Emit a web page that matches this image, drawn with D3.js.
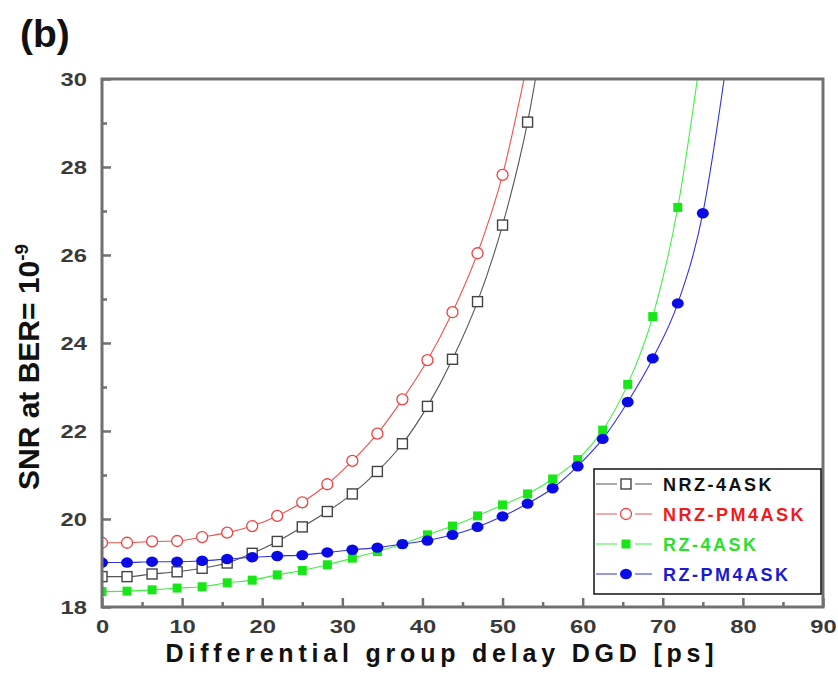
<!DOCTYPE html>
<html>
<head>
<meta charset="utf-8">
<script src="https://cdn.jsdelivr.net/npm/d3@7"></script>
<style>
    body { margin: 0; background: white; }
    #chart { width: 838px; height: 696px; }
    text { font-family: "Liberation Sans", Arial, sans-serif; font-weight: bold; }
</style>
</head>
<body>
<div id="chart"></div>
<script>
// DGD sampling step is 3.125 ps; the last point of each series sits above 30 dB and is clipped
const step = 3.125;
const nrz4ask = [18.69, 18.69, 18.75, 18.80, 18.88, 19.00, 19.22, 19.49, 19.82, 20.17, 20.57, 21.08, 21.71, 22.56, 23.63, 24.94, 26.68, 29.02, 32.4];
const nrzPm4ask = [19.46, 19.46, 19.49, 19.50, 19.59, 19.69, 19.84, 20.07, 20.38, 20.79, 21.32, 21.94, 22.72, 23.61, 24.70, 26.04, 27.82, 30.4];
const rz4ask = [18.35, 18.36, 18.39, 18.43, 18.46, 18.55, 18.61, 18.73, 18.83, 18.96, 19.11, 19.26, 19.43, 19.64, 19.84, 20.07, 20.32, 20.57, 20.91, 21.35, 22.02, 23.06, 24.60, 27.08, 30.9];
const rzPm4ask = [19.01, 19.01, 19.03, 19.03, 19.05, 19.09, 19.13, 19.16, 19.18, 19.24, 19.30, 19.35, 19.43, 19.51, 19.64, 19.82, 20.06, 20.35, 20.70, 21.20, 21.82, 22.66, 23.65, 24.90, 26.95, 30.6];

const seriesNames = ["NRZ-4ASK", "NRZ-PM4ASK", "RZ-4ASK", "RZ-PM4ASK"];
const xTicks = [0, 10, 20, 30, 40, 50, 60, 70, 80, 90];
const yTicks = [18, 20, 22, 24, 26, 28, 30];

const series = [
    { name: seriesNames[0], values: nrz4ask, line: "#555", stroke: "#444", fill: "white", shape: "square", text: "#111" },
    { name: seriesNames[1], values: nrzPm4ask, line: "#f05050", stroke: "#f04040", fill: "white", shape: "circle", text: "#ee1c1c" },
    { name: seriesNames[2], values: rz4ask, line: "#44ee44", stroke: "none", fill: "#19e619", shape: "square", text: "#2ee02e" },
    { name: seriesNames[3], values: rzPm4ask, line: "#3333dd", stroke: "none", fill: "#0a0ae6", shape: "circle", text: "#1a1ad0" }
];

const margin = { top: 79, right: 15, bottom: 89, left: 102 };
const width = 838 - margin.left - margin.right;
const height = 696 - margin.top - margin.bottom;

const root = d3.select("#chart").append("svg")
    .attr("width", 838)
    .attr("height", 696);

const svg = root.append("g")
    .attr("transform", `translate(${margin.left},${margin.top})`);

const xScale = d3.scaleLinear().domain([0, 90]).range([0, width]);
const yScale = d3.scaleLinear().domain([18, 30]).range([height, 0]);

svg.append("defs").append("clipPath").attr("id", "plotClip")
    .append("rect").attr("width", width).attr("height", height);

// Axes with inward ticks
const xAxis = svg.append("g").attr("transform", `translate(0,${height})`)
    .call(d3.axisBottom(xScale).tickValues(xTicks).tickSize(-9).tickPadding(13).tickFormat(d3.format("d")));
const xMinor = svg.append("g").attr("transform", `translate(0,${height})`)
    .call(d3.axisBottom(xScale).tickValues(xTicks.slice(0, -1).map(d => d + 5)).tickSize(-5).tickFormat(""));
const yAxis = svg.append("g")
    .call(d3.axisLeft(yScale).tickValues(yTicks).tickSize(-9).tickPadding(12).tickFormat(d3.format("d")));
const yMinor = svg.append("g")
    .call(d3.axisLeft(yScale).tickValues(yTicks.slice(0, -1).map(d => d + 1)).tickSize(-5).tickFormat(""));

[xAxis, xMinor, yAxis, yMinor].forEach(g => {
    g.select(".domain").remove();
    g.selectAll("line").attr("stroke", "#707070").attr("stroke-width", 2.5);
});
[xAxis, yAxis].forEach(g => {
    g.selectAll("text")
        .attr("fill", "#3a3a3a")
        .style("font-size", "19px")
        .attr("transform", "scale(1.25,1)");
});

// Curves and markers
const line = d3.line()
    .x((d, i) => xScale(i * step))
    .y(d => yScale(d))
    .curve(d3.curveMonotoneX);

const plot = svg.append("g").attr("clip-path", "url(#plotClip)");

function drawMarker(sel, s, cx, cy) {
    if (s.shape === "square") {
        const size = s.fill === "white" ? 10 : 9;
        sel.append("rect")
            .attr("x", cx - size / 2).attr("y", cy - size / 2)
            .attr("width", size).attr("height", size)
            .attr("fill", s.fill).attr("stroke", s.stroke).attr("stroke-width", 1.4);
    } else if (s.fill === "white") {
        sel.append("circle").attr("cx", cx).attr("cy", cy).attr("r", 5.5)
            .attr("fill", s.fill).attr("stroke", s.stroke).attr("stroke-width", 1.3);
    } else {
        sel.append("ellipse").attr("cx", cx).attr("cy", cy).attr("rx", 6).attr("ry", 5.2)
            .attr("fill", s.fill);
    }
}

series.forEach(s => {
    plot.append("path")
        .datum(s.values)
        .attr("fill", "none")
        .attr("stroke", s.line)
        .attr("stroke-width", 1.1)
        .attr("d", line);
});
series.forEach(s => {
    const g = plot.append("g");
    s.values.forEach((v, i) => drawMarker(g, s, xScale(i * step), yScale(v)));
});

// Frame
svg.append("rect")
    .attr("width", width).attr("height", height)
    .attr("fill", "none").attr("stroke", "#707070").attr("stroke-width", 3);

// Legend
const legend = root.append("g").attr("transform", "translate(594,469)");
legend.append("rect")
    .attr("width", 227).attr("height", 125)
    .attr("fill", "white").attr("stroke", "#111").attr("stroke-width", 1.5);
series.forEach((s, i) => {
    const y = 15 + i * 30;
    legend.append("line").attr("x1", 2).attr("x2", 58).attr("y1", y).attr("y2", y)
        .attr("stroke", s.line).attr("stroke-width", 1.1);
    legend.append("rect").attr("x", 23).attr("y", y - 7).attr("width", 18).attr("height", 14).attr("fill", "white");
    drawMarker(legend, s, 32, y);
    legend.append("text")
        .attr("x", 69).attr("y", y + 6.5)
        .attr("fill", s.text)
        .style("font-size", "18px")
        .style("letter-spacing", "2.5px")
        .text(s.name);
});

// Labels
root.append("text")
    .attr("x", 20).attr("y", 47)
    .style("font-size", "39px")
    .attr("fill", "#111")
    .text("(b)");

root.append("text")
    .attr("x", 442).attr("y", 662)
    .attr("text-anchor", "middle")
    .style("font-size", "25px")
    .style("letter-spacing", "4.8px")
    .attr("fill", "#111")
    .text("Differential group delay DGD [ps]");

const yLabel = root.append("text")
    .attr("transform", "translate(39,490) rotate(-90)")
    .style("font-size", "30px")
    .attr("fill", "#111");
yLabel.append("tspan").text("SNR at BER= 10");
yLabel.append("tspan").attr("dy", -11).style("font-size", "19px").text("-9");
</script>
</body>
</html>
